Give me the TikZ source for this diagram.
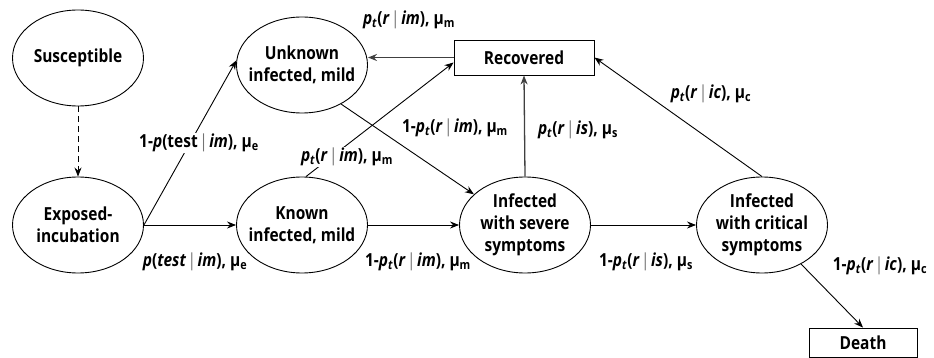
\documentclass[tikz,border=0pt]{standalone}
\usepackage{fontspec}
\setmainfont[FakeStretch=0.86]{Open Sans}
\usetikzlibrary{shapes.geometric,arrows.meta}
\newcommand{\pT}{\textit{p}\textsubscript{\textit{t}}}
\newcommand{\gv}{\hspace{1.5pt}{\mdseries\textcolor{black!55}{|}}\hspace{1.5pt}}
\newcommand{\mus}[1]{μ\textsubscript{#1}}
\begin{document}
\begin{tikzpicture}[x=1pt,y=-1pt,
  font=\bfseries\fontsize{18}{22}\selectfont,
  state/.style={ellipse, draw, line width=0.9pt, minimum width=131pt, minimum height=96pt, inner sep=0pt,
    label={[align=center, inner sep=0pt]center:#1}},
  sbox/.style={rectangle, draw, line width=0.9pt, inner sep=0pt},
  conn/.style={-{Stealth[length=9pt,width=7pt]}, line width=0.9pt},
  lbl/.style={inner sep=1pt},
  wlbl/.style={inner sep=1pt, fill=white}]
\useasboundingbox (0,0) rectangle (934,358);
\node[state={Susceptible}] (sus) at (78,58) {};
\node[state={Exposed-\\incubation}] (exp) at (78,225) {};
\node[state={Unknown\\infected, mild}] (unk) at (302,65) {};
\node[state={Known\\infected, mild}] (kno) at (302,225) {};
\node[state={Infected\\with severe\\symptoms}] (sev) at (525,225) {};
\node[state={Infected\\with critical\\symptoms}] (cri) at (762,225) {};
\node[sbox, minimum width=140pt, minimum height=35pt] (rec) at (524,57.5) {Recovered};
\node[sbox, minimum width=108pt, minimum height=29pt] (dea) at (863,342.5) {Death};

\draw[conn, dash pattern=on 6pt off 4pt] (sus.south) -- (exp.north);
\draw[conn] (exp.east) -- (unk.176);
\draw[conn] (exp.east) -- (kno.west);
\draw[conn] ([xshift=4pt]kno.north) -- ([yshift=-5pt]rec.west);
\draw[conn, line width=1.3pt, black!75] (rec.west) -- (unk.east |- rec.west);
\draw[conn] (unk.-45) -- (sev.149);
\draw[conn] (kno.east) -- (sev.west);
\draw[conn, line width=1.3pt, black!75] (sev.north) -- (rec.south);
\draw[conn] (sev.east) -- (cri.west);
\draw[conn] (cri.north) -- (rec.east);
\draw[conn] (cri.-45) -- (dea.north);

\node[wlbl] (l1) at (199,143) {1-\textit{p}(test\gv\textit{im}), \mus{e}};
\node[lbl] (l2) at (195,262) {\textit{p}(\textit{test}\gv\textit{im}), \mus{e}};
\node[wlbl] (l3) at (347,157) {\pT(\textit{r}\gv\textit{im}), \mus{m}};
\node[lbl] (l4) at (409,20) {\pT(\textit{r}\gv\textit{im}), \mus{m}};
\node[lbl] (l5) at (455,128) {1-\pT(\textit{r}\gv\textit{im}), \mus{m}};
\node[lbl] (l6) at (418,262) {1-\pT(\textit{r}\gv\textit{im}), \mus{m}};
\node[lbl] (l7) at (578,130) {\pT(\textit{r}\gv\textit{is}), \mus{s}};
\node[lbl] (l8) at (646,262) {1-\pT(\textit{r}\gv\textit{is}), \mus{s}};
\node[lbl] (l9) at (711,94) {\pT(\textit{r}\gv\textit{ic}), \mus{c}};
\node[lbl] (l10) at (880,266) {1-\pT(\textit{r}\gv\textit{ic}), \mus{c}};
\end{tikzpicture}
\end{document}
